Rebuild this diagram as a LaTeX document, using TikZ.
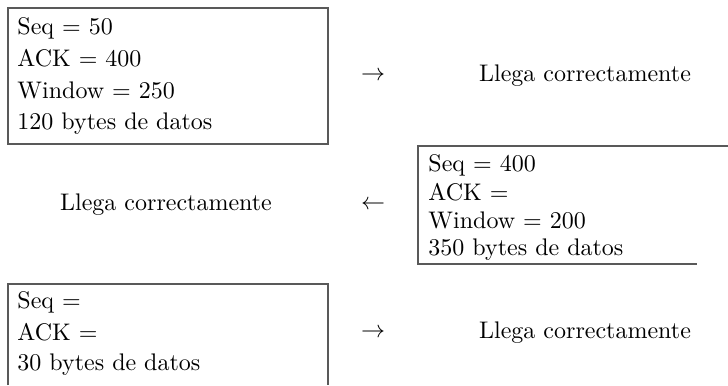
\documentclass[tikz,border=0pt]{standalone}
\begin{document}
\begin{tikzpicture}[x=0.41667pt,y=-0.41667pt,
  boxline/.style={draw=black!65,line width=0.45pt},
  txt/.style={anchor=base west,inner sep=0pt,font=\fontsize{10}{12}\selectfont},
  ctxt/.style={anchor=base,inner sep=0pt,font=\fontsize{10}{12}\selectfont}]
\useasboundingbox (0,0) rectangle (728,385);
% box 1
\draw[boxline] (8,8) rectangle (328,144);
\node[txt] (a1) at (17,34) {Seq $=$ 50};
\node[txt] (a2) at (17,66) {ACK $=$ 400};
\node[txt] (a3) at (17,98) {Window $=$ 250};
\node[txt] (a4) at (17,129) {120 bytes de datos};
\node[ctxt] (r1) at (373,80) {$\rightarrow$};
\node[ctxt] (l1) at (585,81) {Llega correctamente};
% box 2
\draw[boxline] (728,146) -- (418,146) -- (418,264) -- (697,264);
\node[txt] (b1) at (428,171) {Seq $=$ 400};
\node[txt] (b2) at (428,200) {ACK $=$};
\node[txt] (b3) at (428,228) {Window $=$ 200};
\node[txt] (b4) at (428,255) {350 bytes de datos};
\node[ctxt] (r2) at (373,209) {$\leftarrow$};
\node[ctxt] (l2) at (166,210) {Llega correctamente};
% box 3
\draw[boxline] (8,385) -- (8,284) -- (328,284) -- (328,385);
\node[txt] (c1) at (17,308) {Seq $=$};
\node[txt] (c2) at (17,340) {ACK $=$};
\node[txt] (c3) at (17,370) {30 bytes de datos};
\node[ctxt] (r3) at (373,337) {$\rightarrow$};
\node[ctxt] (l3) at (585,338) {Llega correctamente};
\end{tikzpicture}
\end{document}
